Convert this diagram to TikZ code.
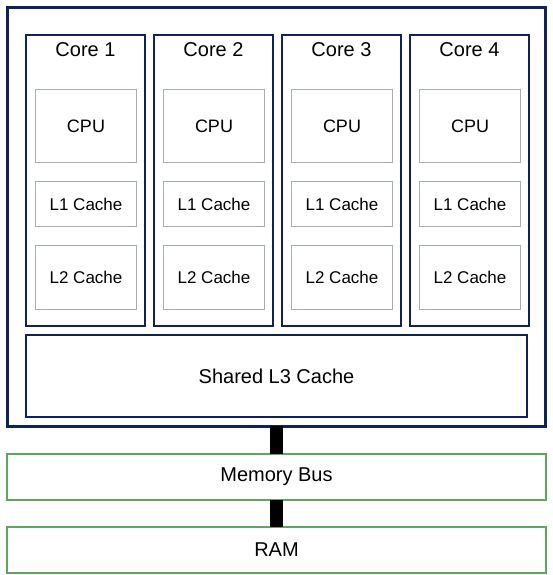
\documentclass[tikz,border=0pt]{standalone}
\usepackage{fontspec}
\setmainfont{Liberation Sans}
\usetikzlibrary{calc}
\begin{document}
\begin{tikzpicture}[x=1pt,y=-1pt,
  outerbox/.style={draw=navy, line width=3pt, anchor=north west, inner sep=0pt, outer sep=0pt},
  corebox/.style={draw=navy, line width=1.6pt, anchor=north west, inner sep=0pt, outer sep=0pt, minimum width=119pt, minimum height=291pt},
  unitbox/.style={draw=unitgray, line width=1pt, anchor=north west, inner sep=0pt, minimum width=101pt},
  membox/.style={draw=memgreen, line width=1.5pt, anchor=north west, inner sep=0pt, outer sep=0pt, minimum width=539pt, minimum height=46pt, font=\fontsize{20}{24}\selectfont},
  title/.style={font=\fontsize{20}{24}\selectfont, inner sep=0pt},
  cpulabel/.style={font=\fontsize{18}{22}\selectfont},
  cachelabel/.style={font=\fontsize{17}{20}\selectfont},
  bar/.style={line width=13pt, draw=black}
]
\definecolor{navy}{HTML}{0F2259}
\definecolor{unitgray}{HTML}{A3ADBC}
\definecolor{memgreen}{HTML}{5BA75B}
\useasboundingbox (0,0) rectangle (553,575);
\node[outerbox, minimum width=537.5pt, minimum height=418pt] (outer) at (7.5,8) {};
\foreach \i in {1,2,3,4} {
  \pgfmathsetmacro{\xl}{26+128*(\i-1)}
  \node[corebox] (core\i) at (\xl,35) {};
  \node[title] (title\i) at ($(\xl,50)+(59.5,0)$) {Core \i};
  \node[unitbox, minimum height=73pt] (cpu\i) at ($(\xl,89)+(9,0)$) {};
  \node[cpulabel] (cpulab\i) at (cpu\i.center) {CPU};
  \node[unitbox, minimum height=45pt] (lone\i) at ($(\xl,181)+(9,0)$) {};
  \node[cachelabel] (lonelab\i) at (lone\i.center) {L1 Cache};
  \node[unitbox, minimum height=64pt] (ltwo\i) at ($(\xl,245)+(9,0)$) {};
  \node[cachelabel] (ltwolab\i) at (ltwo\i.center) {L2 Cache};
}
\node[corebox, minimum width=501pt, minimum height=82pt, font=\fontsize{20}{24}\selectfont] (lthree) at (26,335) {Shared L3 Cache};
\node[membox] (mem) at (7,454) {Memory Bus};
\node[membox] (ram) at (7,527) {RAM};
\draw[bar] (outer.south) -- (outer.south |- mem.north);
\draw[bar] (mem.south) -- (mem.south |- ram.north);
\end{tikzpicture}
\end{document}
